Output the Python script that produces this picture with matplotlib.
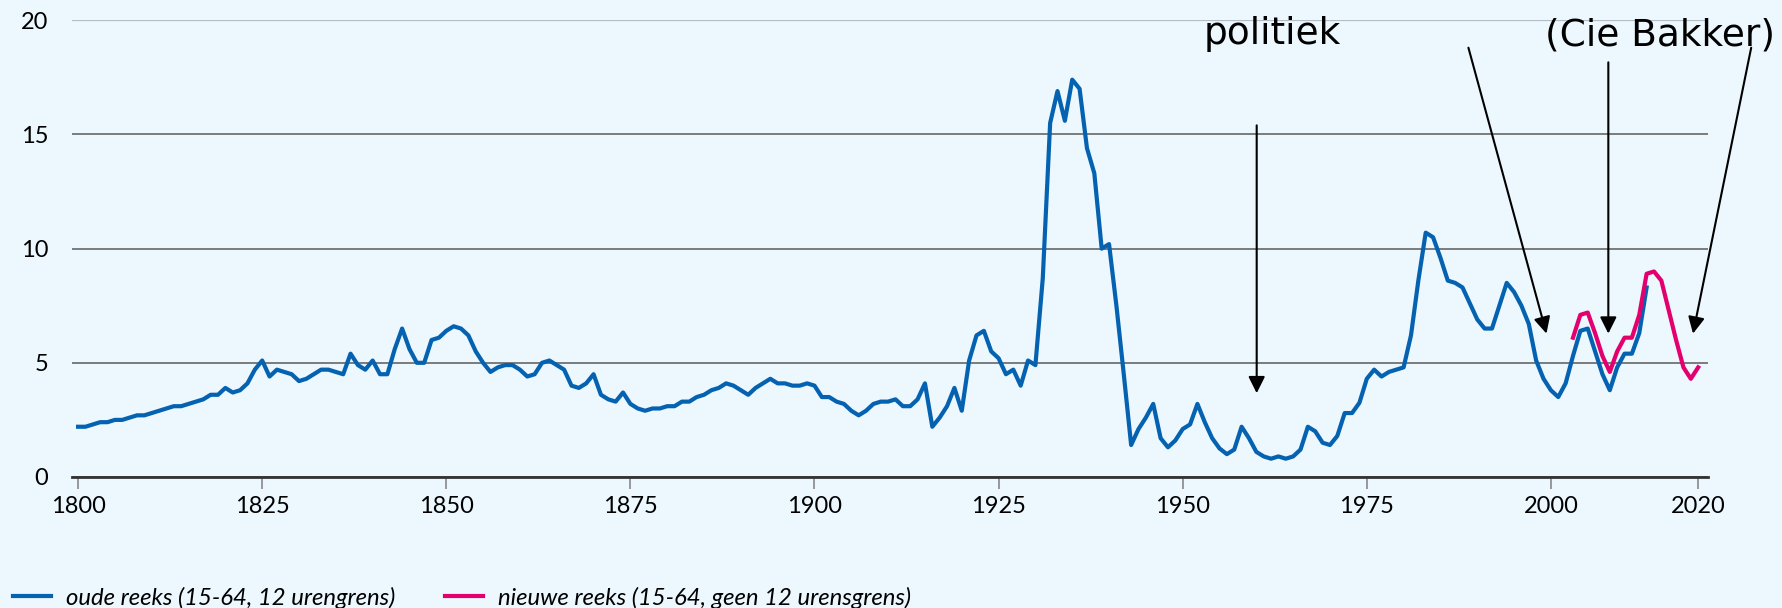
# Werkloosheid in Nederland 1800-2020, oude en nieuwe reeks

import matplotlib
matplotlib.use('Agg')
import matplotlib.pyplot as plt

# jaren en werkloosheidspercentages
jaren_oud = list(range(1800, 2014))
oude_reeks = [
    2.2, 2.2, 2.3, 2.4, 2.4, 2.5, 2.5, 2.6, 2.7, 2.7,      # 1800
    2.8, 2.9, 3.0, 3.1, 3.1, 3.2, 3.3, 3.4, 3.6, 3.6,      # 1810
    3.9, 3.7, 3.8, 4.1, 4.7, 5.1, 4.4, 4.7, 4.6, 4.5,      # 1820
    4.2, 4.3, 4.5, 4.7, 4.7, 4.6, 4.5, 5.4, 4.9, 4.7,      # 1830
    5.1, 4.5, 4.5, 5.6, 6.5, 5.6, 5.0, 5.0, 6.0, 6.1,      # 1840
    6.4, 6.6, 6.5, 6.2, 5.5, 5.0, 4.6, 4.8, 4.9, 4.9,      # 1850
    4.7, 4.4, 4.5, 5.0, 5.1, 4.9, 4.7, 4.0, 3.9, 4.1,      # 1860
    4.5, 3.6, 3.4, 3.3, 3.7, 3.2, 3.0, 2.9, 3.0, 3.0,      # 1870
    3.1, 3.1, 3.3, 3.3, 3.5, 3.6, 3.8, 3.9, 4.1, 4.0,      # 1880
    3.8, 3.6, 3.9, 4.1, 4.3, 4.1, 4.1, 4.0, 4.0, 4.1,      # 1890
    4.0, 3.5, 3.5, 3.3, 3.2, 2.9, 2.7, 2.9, 3.2, 3.3,      # 1900
    3.3, 3.4, 3.1, 3.1, 3.4, 4.1, 2.2, 2.6, 3.1, 3.9,      # 1910
    2.9, 5.1, 6.2, 6.4, 5.5, 5.2, 4.5, 4.7, 4.0, 5.1,      # 1920
    4.9, 8.7, 15.5, 16.9, 15.6, 17.4, 17.0, 14.4, 13.3, 10.0,  # 1930
    10.2, 7.5, 4.5, 1.4, 2.1, 2.6, 3.2, 1.7, 1.3, 1.6,     # 1940
    2.1, 2.3, 3.2, 2.4, 1.7, 1.25, 1.0, 1.2, 2.2, 1.7,     # 1950
    1.1, 0.9, 0.8, 0.9, 0.8, 0.9, 1.2, 2.2, 2.0, 1.5,      # 1960
    1.4, 1.8, 2.8, 2.8, 3.25, 4.3, 4.7, 4.4, 4.6, 4.7,     # 1970
    4.8, 6.2, 8.6, 10.7, 10.5, 9.6, 8.6, 8.5, 8.3, 7.6,    # 1980
    6.9, 6.5, 6.5, 7.5, 8.5, 8.1, 7.5, 6.7, 5.1, 4.3,      # 1990
    3.8, 3.5, 4.1, 5.3, 6.4, 6.5, 5.5, 4.5, 3.8, 4.8,      # 2000
    5.4, 5.4, 6.3, 8.3,                                    # 2010
]

jaren_nieuw = list(range(2003, 2021))
nieuwe_reeks = [6.1, 7.1, 7.2, 6.3, 5.3, 4.6, 5.5, 6.1, 6.1, 7.1,
                8.9, 9.0, 8.6, 7.3, 6.0, 4.8, 4.3, 4.8]

x_ticks = [1800, 1825, 1850, 1875, 1900, 1925, 1950, 1975, 2000, 2020]
y_ticks = [0, 5, 10, 15, 20]

label_oud = 'oude reeks (15-64, 12 urengrens)'
label_nieuw = 'nieuwe reeks (15-64, geen 12 urensgrens)'

# pijlen: (punt, begin van de pijl)
pijlen = [
    ((1960.05, 3.67), (1960.05, 15.4)),
    ((1999.4, 6.28), (1988.8, 18.8)),
    ((2007.8, 6.28), (2007.8, 18.16)),
    ((2019.3, 6.28), (2027.2, 18.8)),
]

achtergrond = '#ECF7FE'
blauw = '#0462B1'
roze = '#E3006E'
tick_font = ['Lato', 'DejaVu Sans']
legend_font = ['Liberation Sans Narrow', 'Lato', 'DejaVu Sans']

fig = plt.figure(figsize=(17.83, 6.08), dpi=100, facecolor=achtergrond)
ax = fig.add_axes([0.0402, 0.2155, 0.9178, 0.7511], facecolor=achtergrond)

ax.plot(jaren_oud, oude_reeks, color=blauw, lw=3, label=label_oud, zorder=3)
ax.plot(jaren_nieuw, nieuwe_reeks, color=roze, lw=3, label=label_nieuw, zorder=4)

ax.set_xlim(1799.13, 2021.35)
ax.set_ylim(0, 20)
ax.set_xticks(x_ticks)
ax.set_yticks(y_ticks)

for s in ['top', 'right', 'left']:
    ax.spines[s].set_visible(False)
ax.spines['bottom'].set_color('#333333')
ax.spines['bottom'].set_linewidth(2)

ax.yaxis.grid(True, color='#666666', lw=1.2)
ax.get_ygridlines()[-1].set_color('#B3BCC5')
ax.get_ygridlines()[-1].set_linewidth(1.6)
ax.set_axisbelow(True)

ax.tick_params(axis='y', length=0, pad=17, labelsize=17)
ax.tick_params(axis='x', length=8.6, width=1.2, color='#888888', pad=5, labelsize=17)
for lab in ax.get_xticklabels() + ax.get_yticklabels():
    lab.set_family(tick_font)

# annotaties
ax.text(1952.9, 18.98, 'politiek', fontsize=27, ha='left', va='baseline',
        family='DejaVu Sans', clip_on=False)
ax.text(1999.2, 18.89, '(Cie Bakker)', fontsize=27, ha='left', va='baseline',
        family='DejaVu Sans', clip_on=False)

for punt, begin in pijlen:
    ax.annotate('', xy=punt, xytext=begin, annotation_clip=False,
                arrowprops=dict(arrowstyle='-|>', color='black', lw=1.5,
                                mutation_scale=25, shrinkA=0, shrinkB=0))

fig.legend(loc='center left', bbox_to_anchor=(0.0073, 0.017), ncol=2,
           frameon=False, borderpad=0, borderaxespad=0, handlelength=1.6,
           handletextpad=0.6, columnspacing=2.1,
           prop=dict(family=legend_font, style='italic', size=17.2))

fig.savefig('out.png', dpi=100, facecolor=achtergrond)
